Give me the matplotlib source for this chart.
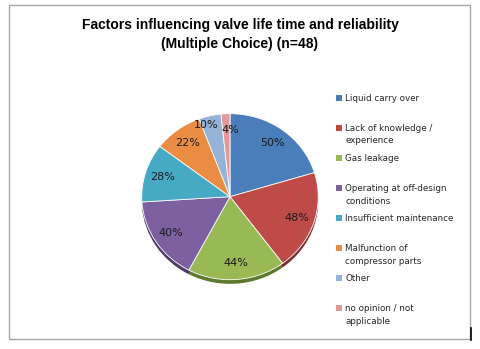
import numpy as np
import matplotlib
matplotlib.use("Agg")
import matplotlib.pyplot as plt
from matplotlib.patches import Rectangle

categories = ["Liquid carry over", "Lack of knowledge /\nexperience", "Gas leakage",
              "Operating at off-design\nconditions", "Insufficient maintenance",
              "Malfunction of\ncompressor parts", "Other", "no opinion / not\napplicable"]
values = [50, 48, 44, 40, 28, 22, 10, 4]
colors = ["#4A7EBB", "#BE4B48", "#98B954", "#7D60A0", "#46AAC5", "#EB8C43", "#95B3D7", "#E3999A"]
dark = ["#2F5480", "#7E2F2D", "#5E7A2E", "#4E3A68", "#2B7088", "#A85F24", "#5E7FA8", "#A86A6A"]

fig = plt.figure(figsize=(4.8, 3.49), dpi=100)
fig.patch.set_facecolor("white")

# chart frame
fig.add_artist(Rectangle((9/480, 1-339/349), 461/480, 334/349, transform=fig.transFigure,
                         fill=False, edgecolor="#A6A6A6", lw=1))

fig.text(0.5, 1-25/349, "Factors influencing valve life time and reliability",
         ha="center", va="center", fontsize=10, fontweight="bold", family="Liberation Sans")
fig.text(0.5, 1-44/349, "(Multiple Choice) (n=48)",
         ha="center", va="center", fontsize=10, fontweight="bold", family="Liberation Sans")

ax = fig.add_axes([(230-90)/480, 1-(200+88)/349, 180/480, 176/349])
# thickness / shadow underneath
ax.pie(values, colors=dark, startangle=90, counterclock=False, center=(0, -0.05),
       wedgeprops=dict(linewidth=0))
wedges, texts = ax.pie(values, colors=colors, startangle=90, counterclock=False,
                       labels=[f"{v}%" for v in values], labeldistance=0.8,
                       wedgeprops=dict(linewidth=0.6, edgecolor="white"),
                       textprops=dict(fontsize=8, color="#1a1a1a", family="DejaVu Sans"))
for t in texts:
    t.set_ha("center")
    t.set_va("center")
# the two thin slices at the top: spread their labels like the original
texts[6].set_position((-0.27, 0.86))
texts[7].set_position((0.0, 0.8))
ax.set_aspect("auto")
ax.set_xlim(-1.02, 1.02)
ax.set_ylim(-1.1, 1.02)

# legend
pitch = 30
for i, (lab, c) in enumerate(zip(categories, colors)):
    y = 1 - (98 + i * pitch) / 349
    fig.add_artist(Rectangle((336/480, y - 3/349), 6/480, 6/349, transform=fig.transFigure,
                             facecolor=c, edgecolor="none"))
    fig.text(345/480, y + 4/349, lab, ha="left", va="top", fontsize=6.3,
             color="#262626", linespacing=1.5)

fig.add_artist(plt.Line2D([471/480, 471/480], [1-340/349, 1-328/349],
                          transform=fig.transFigure, color="black", lw=1.2))

fig.savefig("out.png", dpi=100)
